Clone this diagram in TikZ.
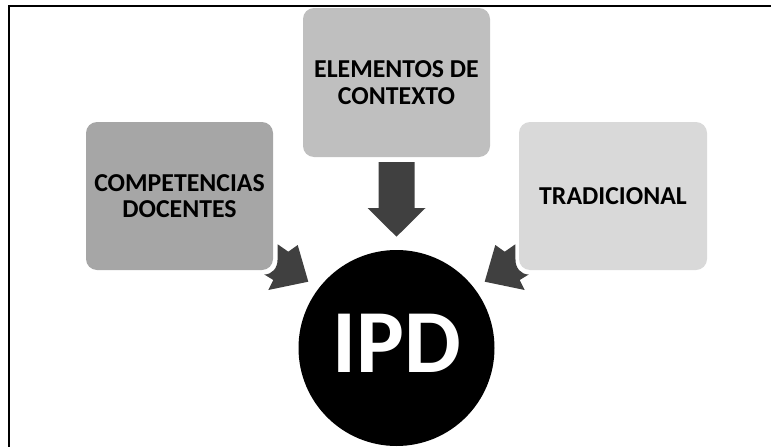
\documentclass[tikz,border=0pt]{standalone}
\usepackage{fontspec}
\setmainfont{Carlito}
\definecolor{arrowgray}{HTML}{404040}
\definecolor{boxA}{HTML}{A6A6A6}
\definecolor{boxB}{HTML}{BFBFBF}
\definecolor{boxC}{HTML}{D9D9D9}
\begin{document}
\begin{tikzpicture}[x=1pt,y=-1pt,
  box/.style={rounded corners=11pt, minimum width=187pt, minimum height=148pt,
    inner sep=0pt, align=center, text=black,
    font=\fontsize{25.8}{26.5}\selectfont\bfseries},
  blockarrow/.style={fill=arrowgray, draw=none},
  framerule/.style={line width=1.8pt, black}]
\useasboundingbox (0,0) rectangle (771,447);
\draw[framerule] (9.2,447) -- (9.2,5.8) -- (771,5.8);
% arrows
\path[blockarrow] (378.5,162) -- (414.5,162) -- (414.5,208) -- (425.5,208)
  -- (396.5,236.7) -- (367.5,208) -- (378.5,208) -- cycle;
\path[blockarrow] (264.3,274.5) .. controls (272,274.5) and (277.5,268) .. (277.5,260)
  -- (277.7,244.3) -- (288.3,251.7) -- (297.7,245) -- (308.3,281.7)
  -- (268.3,290) -- (273.3,280) -- cycle;
\path[blockarrow] (528.7,274.5) .. controls (521,274.5) and (515.5,268) .. (515.5,260)
  -- (515.3,244.3) -- (504.7,251.7) -- (495.3,245) -- (484.7,281.7)
  -- (524.7,290) -- (519.7,280) -- cycle;
% boxes
\node[box, fill=boxA] (comp) at (179.5,196) {COMPETENCIAS\\DOCENTES};
\node[box, fill=boxB, minimum height=149pt] (elem) at (396.5,82.5) {ELEMENTOS DE\\CONTEXTO};
\node[box, fill=boxC, minimum width=188pt] (trad) at (613,196) {TRADICIONAL};
% circle
\node[circle, fill=black, minimum size=196pt, inner sep=0pt] (ipd) at (396.5,348) {};
\node[text=white, font=\fontsize{90}{90}\selectfont\bfseries, inner sep=0pt]
  (ipdtext) at ([yshift=5pt]ipd.center) {IPD};
\end{tikzpicture}
\end{document}
